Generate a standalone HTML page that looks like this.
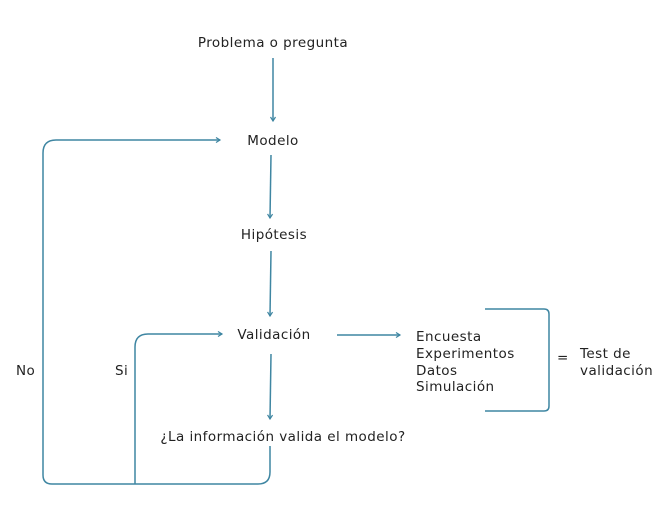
<!DOCTYPE html>
<html><head><meta charset="utf-8"><style>
html,body{margin:0;padding:0;background:#fff;}
svg{display:block;}
text{font-family:"DejaVu Sans","Liberation Sans",sans-serif;font-size:13.5px;fill:#222;letter-spacing:0.45px;}
</style></head><body>
<svg width="670" height="513" viewBox="0 0 670 513" xmlns="http://www.w3.org/2000/svg">
<defs>
<marker id="a" markerWidth="8" markerHeight="8" refX="6" refY="4" orient="auto" markerUnits="userSpaceOnUse">
<path d="M2,1.5 L6,4 L2,6.5" fill="none" stroke="#3f86a2" stroke-width="1.2"/>
</marker>
</defs>
<g fill="none" stroke="#3f86a2" stroke-width="1.5">
<line x1="273" y1="58" x2="273" y2="121" marker-end="url(#a)"/>
<line x1="271" y1="155" x2="270" y2="218" marker-end="url(#a)"/>
<line x1="271" y1="251" x2="270" y2="316" marker-end="url(#a)"/>
<line x1="271" y1="354" x2="270" y2="419" marker-end="url(#a)"/>
<line x1="337" y1="335" x2="400" y2="335" marker-end="url(#a)"/>
<path d="M270,446 V472 Q270,484 258,484 H52 Q43,484 43,475 V153 Q43,140 56,140 H220" marker-end="url(#a)"/>
<path d="M135,484 V347 Q135,334 148,334 H222" marker-end="url(#a)"/>
<path d="M485,309 H544 Q549,309 549,314 V406 Q549,411 544,411 H485"/>
</g>
<text x="273" y="47" text-anchor="middle">Problema o pregunta</text>
<text x="273" y="145" text-anchor="middle">Modelo</text>
<text x="274" y="239" text-anchor="middle">Hipótesis</text>
<text x="274" y="339" text-anchor="middle">Validación</text>
<text x="283" y="441" text-anchor="middle">¿La información valida el modelo?</text>
<text x="16" y="375">No</text>
<text x="115" y="375">Si</text>
<text x="416" y="341">Encuesta</text>
<text x="416" y="358">Experimentos</text>
<text x="416" y="375">Datos</text>
<text x="416" y="391">Simulación</text>
<text x="557" y="362">=</text>
<text x="580" y="358">Test de</text>
<text x="580" y="375">validación</text>
</svg>
</body></html>
